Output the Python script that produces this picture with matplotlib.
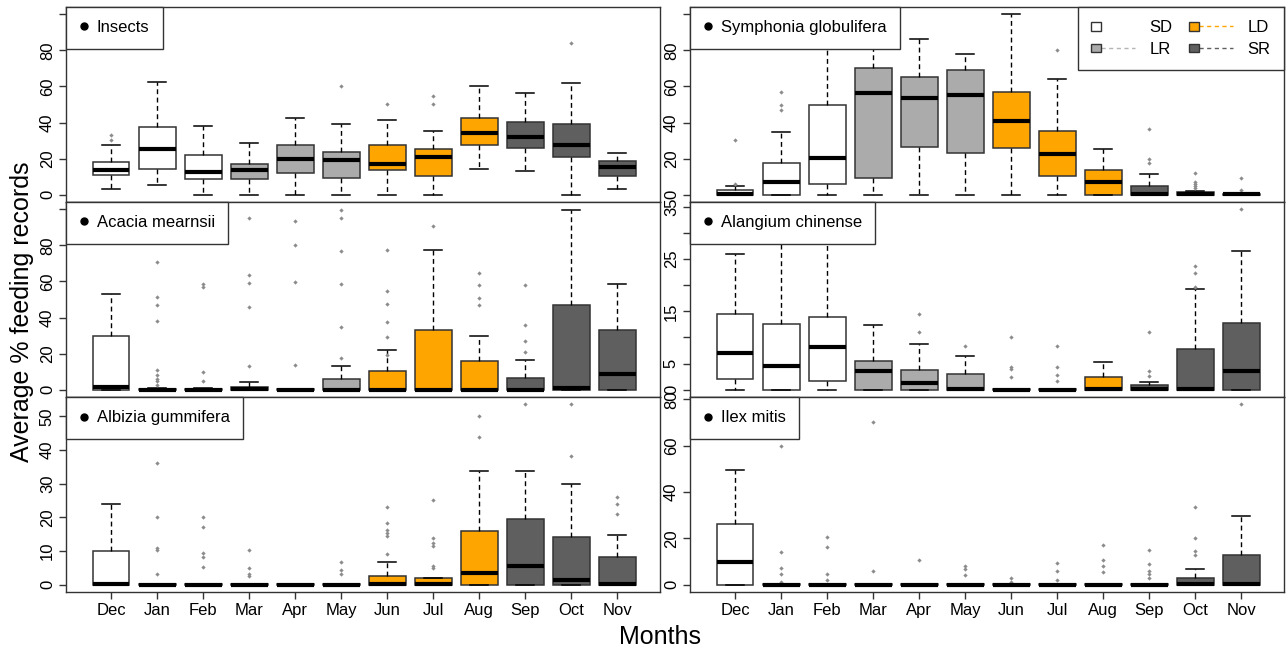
import matplotlib
matplotlib.use("Agg")
import matplotlib.pyplot as plt
from matplotlib.lines import Line2D
from matplotlib.patches import Rectangle
from matplotlib.legend_handler import HandlerBase

plt.rcParams['font.family'] = ['Liberation Sans', 'DejaVu Sans']

# --- Data: monthly five-number summaries of feeding records (%) ---
months = ["Dec", "Jan", "Feb", "Mar", "Apr", "May", "Jun", "Jul", "Aug", "Sep", "Oct", "Nov"]
seasons = ["SD", "LR", "LD", "SR"]
season_fill = ["white", "#ababab", "#ffa500", "#5f5f5f"]
season_line = ["white", "#b5b5b5", "#ffa500", "#5f5f5f"]
month_season = [0, 0, 0, 1, 1, 1, 2, 2, 2, 3, 3, 3]

insects_lo = [3.1, 5.5, 0, 0, 0, 0, 0, 0, 14.5, 13.2, 0, 3.1]
insects_q1 = [10.8, 14.5, 8.6, 8.6, 12.3, 9.5, 13.7, 10.3, 27.3, 25.8, 21.0, 10.3]
insects_med = [13.5, 25.4, 12.6, 13.5, 20.0, 19.2, 17.2, 20.7, 34.4, 32.0, 27.3, 15.2]
insects_q3 = [17.9, 37.3, 22.3, 17.0, 27.6, 23.6, 27.6, 25.3, 42.3, 40.3, 39.0, 18.9]
insects_hi = [27.6, 62.6, 37.9, 28.9, 42.7, 39.0, 41.6, 35.5, 60.2, 56.6, 62.1, 23.2]
insects_out = [[30.6, 33.3], [], [], [], [], [60.2], [50.2], [50.0, 54.6], [], [], [84.0], []]

symphonia_lo = [0, 0, 0, 0, 0, 0, 0, 0, 0, 0, 0, 0]
symphonia_q1 = [0, 0, 6.2, 9.5, 26.7, 23.4, 25.8, 10.3, 0, 0, 0, 0]
symphonia_med = [0.4, 6.8, 20.5, 56.2, 53.5, 55.3, 41.0, 22.5, 6.8, 0.3, 0.4, 0.2]
symphonia_q3 = [2.6, 17.4, 49.8, 70.3, 65.0, 69.0, 57.1, 35.5, 13.7, 4.9, 1.6, 0.7]
symphonia_hi = [4.9, 34.8, 93.0, 96.0, 86.4, 78.2, 100.0, 64.3, 25.3, 11.5, 2.2, 1.2]
symphonia_out = [[6.2, 30.6], [47.0, 49.8, 57.1], [], [], [], [], [], [80.0], [],
                 [17.4, 20.0, 36.4], [3.8, 4.9, 5.9, 6.8, 11.9], [2.7, 9.5]]

acacia_lo = [0, 0, 0, 0, 0, 0, 0, 0, 0, 0, 0, 0]
acacia_q1 = [0, 0, 0, 0, 0, 0, 0, 0, 0, 0, 0, 0]
acacia_med = [1.3, 0, 0, 0.4, 0, 0, 0, 0, 0, 0, 1.1, 8.7]
acacia_q3 = [29.6, 0.6, 0.6, 1.8, 0.5, 6.1, 10.5, 33.3, 15.7, 6.8, 46.7, 33.3]
acacia_hi = [53.2, 0.8, 0.8, 4.2, 0.5, 13.3, 21.8, 77.6, 29.6, 16.3, 99.8, 58.6]
acacia_out = [[], [2.8, 4.6, 6.1, 8.3, 10.7, 38.2, 46.7, 51.2, 70.8], [4.6, 9.8, 56.7, 58.6],
              [13.3, 45.6, 59.1, 63.7, 95.1], [13.9, 59.5, 80.0, 93.7],
              [17.6, 34.7, 58.6, 76.7, 95.1, 99.8], [19.0, 29.0, 37.5, 47.5, 54.5, 77.6],
              [90.5], [46.7, 50.8, 57.8, 64.7], [20.9, 26.8, 35.7, 58.2], [], []]

alangium_lo = [0, 0, 0, 0, 0, 0, 0, 0, 0, 0, 0, 0]
alangium_q1 = [2.1, 0, 1.7, 0, 0, 0, 0, 0, 0, 0, 0, 0]
alangium_med = [7.1, 4.6, 8.1, 3.6, 1.3, 0.2, 0, 0, 0.2, 0.2, 0.1, 3.6]
alangium_q3 = [14.4, 12.5, 14.0, 5.5, 3.8, 3.0, 0.2, 0.2, 2.5, 1.0, 7.8, 12.7]
alangium_hi = [26.0, 30.0, 31.0, 12.3, 8.8, 6.5, 0.2, 0.2, 5.3, 1.5, 19.2, 26.5]
alangium_out = [[], [], [], [], [11.1, 14.4], [8.4], [2.5, 3.9, 4.3, 10.0], [1.7, 2.9, 4.3, 8.4],
                [], [2.7, 3.6, 11.1], [19.7, 22.3, 23.7], [34.5]]

albizia_lo = [0, 0, 0, 0, 0, 0, 0, 0, 0, 0, 0, 0]
albizia_q1 = [0, 0, 0, 0, 0, 0, 0, 0, 0, 0, 0, 0]
albizia_med = [0.2, 0, 0, 0, 0, 0, 0.2, 0.2, 3.4, 5.5, 1.4, 0.2]
albizia_q3 = [10.0, 0.3, 0.3, 0.3, 0.3, 0.3, 2.6, 2.0, 15.9, 19.4, 14.2, 8.1]
albizia_hi = [24.0, 0.3, 0.3, 0.3, 0.3, 0.3, 6.9, 2.0, 33.7, 33.7, 30.0, 14.9]
albizia_out = [[], [3.1, 10.3, 11.0, 20.1, 36.1], [5.4, 8.1, 9.4, 17.1, 20.1], [2.6, 3.1, 4.9, 10.4],
               [], [3.1, 4.4, 6.8], [9.1, 14.5, 15.5, 16.4, 18.2, 23.0],
               [5.1, 5.6, 11.5, 12.5, 14.0, 25.2], [43.9, 50.0], [53.6], [38.1, 53.6], [20.9, 24.0, 26.0]]

ilex_lo = [0, 0, 0, 0, 0, 0, 0, 0, 0, 0, 0, 0]
ilex_q1 = [0, 0, 0, 0, 0, 0, 0, 0, 0, 0, 0, 0]
ilex_med = [10.0, 0, 0, 0, 0, 0, 0, 0, 0, 0, 0.3, 0.3]
ilex_q3 = [26.3, 0.3, 0.3, 0.3, 0.3, 0.3, 0.3, 0.3, 0.3, 0.3, 2.9, 12.7]
ilex_hi = [49.7, 0.3, 0.3, 0.3, 0.3, 0.3, 0.3, 0.3, 0.3, 0.3, 6.7, 29.6]
ilex_out = [[], [1.4, 4.6, 7.4, 14.1, 60.0], [2.0, 4.6, 16.4, 20.6], [6.0, 70.3], [10.7],
            [4.1, 7.0, 8.1], [1.4, 3.1], [2.0, 6.0, 9.6], [5.6, 7.9, 10.7, 17.0],
            [2.9, 4.6, 6.0, 8.9, 15.1], [12.7, 14.6, 20.1, 33.4], [77.9]]

# panel name, summaries, fixed y maximum (None = from data), y tick step, ticks left unlabelled
panels = [
    ("Insects", (insects_lo, insects_q1, insects_med, insects_q3, insects_hi, insects_out), 100, 20, [100]),
    ("Symphonia globulifera", (symphonia_lo, symphonia_q1, symphonia_med, symphonia_q3, symphonia_hi, symphonia_out), 100, 20, [100]),
    ("Acacia mearnsii", (acacia_lo, acacia_q1, acacia_med, acacia_q3, acacia_hi, acacia_out), 100, 20, [100]),
    ("Alangium chinense", (alangium_lo, alangium_q1, alangium_med, alangium_q3, alangium_hi, alangium_out), None, 5, [10, 20, 30]),
    ("Albizia gummifera", (albizia_lo, albizia_q1, albizia_med, albizia_q3, albizia_hi, albizia_out), None, 10, []),
    ("Ilex mitis", (ilex_lo, ilex_q1, ilex_med, ilex_q3, ilex_hi, ilex_out), None, 20, []),
]


class SeasonKey:
    def __init__(self, fill, line):
        self.fill = fill
        self.line = line


class SeasonHandler(HandlerBase):
    # filled square followed by a dashed line, like an R legend with fill + lty
    def create_artists(self, legend, orig_handle, xdescent, ydescent, width, height, fontsize, trans):
        sq_h = height * 0.72
        sq_w = sq_h * 1.2
        y0 = -ydescent + (height - sq_h) / 2
        rect = Rectangle((-xdescent, y0), sq_w, sq_h, facecolor=orig_handle.fill,
                         edgecolor="#333333", lw=1, transform=trans)
        line = Line2D([-xdescent + sq_w, -xdescent + width], [y0 + sq_h / 2] * 2,
                      ls=(0, (3, 2.5)), color=orig_handle.line, lw=1, transform=trans)
        return [line, rect]


def build_stats(summary):
    lo, q1, med, q3, hi, out = summary
    return [dict(whislo=lo[i], q1=q1[i], med=med[i], q3=q3[i], whishi=hi[i], fliers=out[i])
            for i in range(len(months))]


fig = plt.figure(figsize=(12.86, 6.5), dpi=100)

W, H = 1286.0, 650.0
col_left = [66, 690]
col_width = 594
row_top = [7, 202, 397]
row_height = 195

positions = list(range(1, len(months) + 1))

for idx, (name, summary, fixed_top, step, unlabelled) in enumerate(panels):
    row, col = divmod(idx, 2)
    ax = fig.add_axes([col_left[col] / W, 1 - (row_top[row] + row_height) / H,
                       col_width / W, row_height / H])

    stats = build_stats(summary)
    bp = ax.bxp(stats, positions=positions, widths=0.8, capwidths=0.4, patch_artist=True,
                boxprops=dict(edgecolor="#333333", linewidth=1.1),
                whiskerprops=dict(color="black", linewidth=1, linestyle=(0, (3.5, 2.5))),
                capprops=dict(color="black", linewidth=1.1),
                medianprops=dict(color="black", linewidth=3, solid_capstyle="butt"),
                flierprops=dict(marker="D", markersize=2.2, markerfacecolor="#8c8c8c",
                                markeredgecolor="none", linestyle="none"))
    for box, s in zip(bp["boxes"], month_season):
        box.set_facecolor(season_fill[s])

    top = fixed_top
    if top is None:
        all_out = [v for lst in summary[5] for v in lst]
        top = max(max(summary[4]), max(all_out) if all_out else 0)
    pad = 0.04 * top
    ax.set_ylim(-pad, top + pad)
    ax.set_xlim(0.02, 12.93)

    yt = list(range(0, int(top + pad) + 1, step))
    ax.set_yticks(yt)
    ax.set_yticklabels(["" if v in unlabelled else str(v) for v in yt],
                       rotation=90, va="center", fontsize=12)
    ax.tick_params(axis="y", length=5, width=1, pad=3, color="#333333")

    if row == 2:
        ax.set_xticks(positions)
        ax.set_xticklabels(months, fontsize=12)
        ax.tick_params(axis="x", length=5, width=1, pad=3, color="#333333")
    else:
        ax.set_xticks([])

    for sp in ax.spines.values():
        sp.set_color("#333333")
        sp.set_linewidth(1)

    name_leg = ax.legend([Line2D([], [], marker="o", ms=5, color="black", ls="none")], [name],
                         loc="upper left", borderaxespad=0, fontsize=12, frameon=True,
                         fancybox=False, edgecolor="#333333", framealpha=1,
                         handlelength=0.6, handletextpad=0.45, borderpad=0.8)
    name_leg.get_frame().set_linewidth(1)

    if name == "Symphonia globulifera":
        ax.add_artist(name_leg)
        keys = [SeasonKey(season_fill[i], season_line[i]) for i in range(len(seasons))]
        season_leg = ax.legend(keys, seasons, handler_map={SeasonKey: SeasonHandler()},
                               loc="upper right", borderaxespad=0, ncol=2, fontsize=12,
                               frameon=True, fancybox=False, edgecolor="#333333", framealpha=1,
                               handlelength=2.6, handletextpad=0.9, columnspacing=1.0,
                               labelspacing=0.4, borderpad=0.8)
        season_leg.get_frame().set_linewidth(1)

fig.text(0.017, 0.52, "Average % feeding records", rotation=90, ha="center", va="center", fontsize=18)
fig.text(660 / W, 1 - 637 / H, "Months", ha="center", va="center", fontsize=18)

fig.savefig("out.png", dpi=100)
